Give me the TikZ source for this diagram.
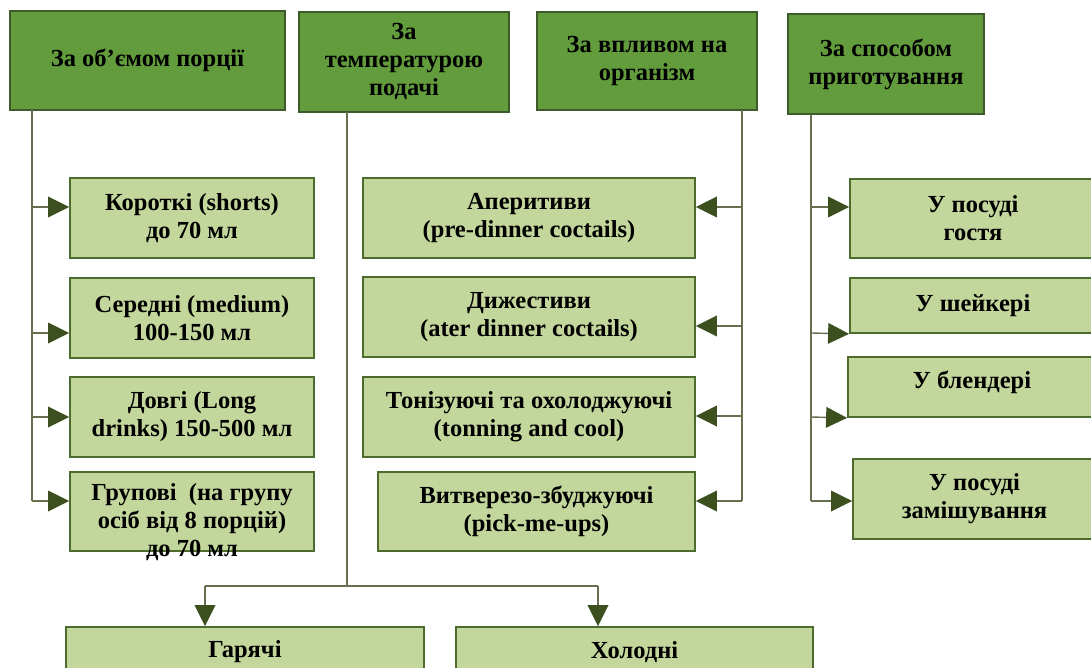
\documentclass[tikz,border=0pt]{standalone}
\usepackage{fontspec}
\setmainfont{Liberation Serif}
\usetikzlibrary{arrows.meta}
\definecolor{topfill}{HTML}{629C3C}
\definecolor{topdraw}{HTML}{3F5A2A}
\definecolor{subfill}{HTML}{C3D69B}
\definecolor{subdraw}{HTML}{4E6B2E}
\definecolor{linecol}{HTML}{66704E}
\definecolor{tipcol}{HTML}{3B4F1F}
\tikzset{
  txt/.style={font=\fontsize{24.5}{28}\selectfont\bfseries, align=center, text=black},
  headbox/.style={txt, draw=topdraw, fill=topfill, line width=1.8pt, inner sep=0pt},
  subbox/.style={txt, draw=subdraw, fill=subfill, line width=1.8pt, inner sep=0pt},
  conn/.style={draw=linecol, line width=1.4pt},
  arr/.style={conn, -{Triangle[length=21pt,width=21pt,color=tipcol,fill=tipcol,line width=0pt]}},
}
\begin{document}
\begin{tikzpicture}[x=1pt,y=-1pt]
\useasboundingbox (0,0) rectangle (1091,668);
\clip (0,0) rectangle (1091,668);
% headers
\node[headbox, minimum width=275pt, minimum height=99pt] (h1) at (147.5,60.5) {За об’ємом порції};
\node[headbox, minimum width=210pt, minimum height=100pt] (h2) at (404,62) {За\\температурою\\подачі};
\node[headbox, minimum width=220pt, minimum height=98pt] (h3) at (647,61) {За впливом на\\організм};
\node[headbox, minimum width=196pt, minimum height=100pt] (h4) at (886,64) {За способом\\приготування};
% left column
\node[subbox, minimum width=244pt, minimum height=80pt] (k1) at (192,218) {Короткі (shorts)\\до 70 мл};
\node[subbox, minimum width=244pt, minimum height=80pt] (k2) at (192,318) {Середні (medium)\\ 100-150 мл};
\node[subbox, minimum width=244pt, minimum height=80pt] (k3) at (192,417) {Довгі (Long\\drinks) 150-500 мл};
\node[subbox, minimum width=244pt, minimum height=79pt] (k4) at (192,511.5) {};
\node[txt] (k4t) at (192,522) {Групові~ (на групу\\осіб від 8 порцій)\\до 70 мл};
% middle column
\node[subbox, minimum width=332pt, minimum height=80pt] (m1) at (529,218) {Аперитиви\\(pre-dinner coctails)};
\node[subbox, minimum width=332pt, minimum height=80pt] (m2) at (529,317) {Дижестиви\\(ater dinner coctails)};
\node[subbox, minimum width=332pt, minimum height=80pt] (m3) at (529,417) {Тонізуючі та охолоджуючі\\(tonning and cool)};
\node[subbox, minimum width=317pt, minimum height=79pt] (m4) at (536.5,511.5) {Витверезо-збуджуючі\\(pick-me-ups)};
% right column
\node[subbox, minimum width=246pt, minimum height=79pt] (r1) at (973,218.5) {У посуді\\гостя};
\node[subbox, minimum width=246pt, minimum height=55pt] (r2) at (973,305.5) {У шейкері};
\node[subbox, minimum width=248pt, minimum height=60pt] (r3) at (972,387) {};
\node[txt] (r3t) at (972,382) {У блендері};
\node[subbox, minimum width=243pt, minimum height=80pt] (r4) at (974.5,499) {У посуді\\замішування};
% bottom
\node[subbox, minimum width=358pt, minimum height=50pt] (g1) at (245,652) {Гарячі};
\node[subbox, minimum width=357pt, minimum height=50pt] (g2) at (634.5,652) {Холодні};
% trunk coordinates
\coordinate (s1) at (32,110);
\coordinate (s2) at (347,112);
\coordinate (s3) at (742,110);
\coordinate (s4) at (811,114);
\coordinate (fork) at (347,586);
% left trunk
\draw[conn] (s1) -- (s1 |- 0,501);
\draw[arr] (s1 |- 0,207) -- (k1.west |- 0,207);
\draw[arr] (s1 |- 0,333) -- (k2.west |- 0,333);
\draw[arr] (s1 |- 0,417) -- (k3.west |- 0,417);
\draw[arr] (s1 |- 0,501) -- (k4.west |- 0,501);
% middle-right trunk
\draw[conn] (s3) -- (s3 |- 0,501);
\draw[arr] (s3 |- 0,207) -- (m1.east |- 0,207);
\draw[arr] (s3 |- 0,326) -- (m2.east |- 0,326);
\draw[arr] (s3 |- 0,416) -- (m3.east |- 0,416);
\draw[arr] (s3 |- 0,501) -- (m4.east |- 0,501);
% right trunk
\draw[conn] (s4) -- (s4 |- 0,501);
\draw[arr] (s4 |- 0,207) -- (r1.west |- 0,207);
\draw[arr] (s4 |- 0,333) -- (r2.south west);
\draw[arr] (s4 |- 0,417) -- (r3.south west);
\draw[arr] (s4 |- 0,501) -- (r4.west |- 0,501);
% temperature trunk
\draw[conn] (s2) -- (fork);
\draw[conn] (fork -| 205,0) -- (fork -| 598,0);
\draw[arr] (fork -| 205,0) -- (g1.north -| 205,0);
\draw[arr] (fork -| 598,0) -- (g2.north -| 598,0);
\end{tikzpicture}
\end{document}
